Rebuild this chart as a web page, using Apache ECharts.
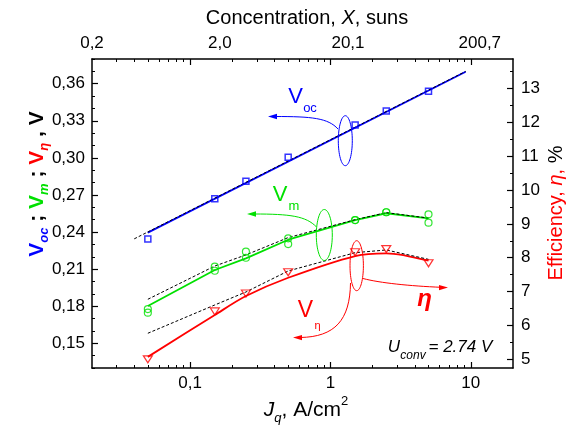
<!DOCTYPE html>
<html><head><meta charset="utf-8">
<script src="https://cdn.jsdelivr.net/npm/echarts@6/dist/echarts.min.js"></script>
<style>html,body{margin:0;padding:0;background:#fff}#c{width:574px;height:425px}</style>
</head><body><div id="c"></div>
<script>
// ---------- data ----------
const J = [0.05, 0.15, 0.25, 0.5, 1.5, 2.5, 5];              // A/cm2
const vocPts   = [0.2344, 0.2670, 0.2810, 0.3005, 0.3266, 0.3379, 0.3539];
const vocFitJ  = [0.05, 9.2];
const vocFitV  = [0.2395, 0.3697];
const vocCalcJ = [0.04, 9.2];
const vocCalcV = [0.2345, 0.3700];
const vmPtsA   = [0.1777, 0.2120, 0.2241, 0.2349, 0.2497, 0.2560, 0.2543];
const vmPtsB   = [0.1748, 0.2087, 0.2192, 0.2303, 0.2497, 0.2560, 0.2476];
const vmLine   = [0.1802, 0.2093, 0.2187, 0.2338, 0.2497, 0.2552, 0.2511];
const vmCalc   = [0.1856, 0.2125, 0.2215, 0.2355, 0.2500, 0.2557, 0.2513];
const vetaPts  = [0.1370, 0.1758, 0.1902, 0.2074, 0.2237, 0.2262, 0.2147];
const vetaLine = [0.1390, 0.1729, 0.1882, 0.2030, 0.2206, 0.2228, 0.2168];
const vetaCalc = [0.1581, 0.1810, 0.1915, 0.2085, 0.2233, 0.2255, 0.2179];

// ---------- axes / tick labels ----------
const xMin = 0.02, xMax = 20;
const bottomTicks = [0.1, 1, 10];
const bottomTickLabels = ['0,1', '1', '10'];
const xMinor = [0.03,0.04,0.05,0.06,0.07,0.08,0.09,0.2,0.3,0.4,0.5,0.6,0.7,0.8,0.9,2,3,4,5,6,7,8,9];
const topLabelPos = [0.02, 0.163, 1.334, 11.6];
const topTickLabels = ['0,2', '2,0', '20,1', '200,7'];
const yMin = 0.13, yMax = 0.38;
const leftTicks = [0.15, 0.18, 0.21, 0.24, 0.27, 0.30, 0.33, 0.36];
const leftMinor = [0.13,0.14,0.16,0.17,0.19,0.20,0.22,0.23,0.25,0.26,0.28,0.29,0.31,0.32,0.34,0.35,0.37,0.38];
const Uconv = 2.74;
const rightTicks = [5, 6, 7, 8, 9, 10, 11, 12, 13];
const rightMinor = [5.5, 6.5, 7.5, 8.5, 9.5, 10.5, 11.5, 12.5, 13.5];

const FONT = '"Liberation Sans", Arial, Helvetica, sans-serif';
const BLUE = '#0000ff', GREEN = '#00e000', RED = '#ff0000', BLACK = '#000000';
const pairs = (xs, ys) => xs.map((x, i) => [x, ys[i]]);
const nearestIdx = (arr, v) => { let b = 0, bd = Infinity; arr.forEach((a, i) => { const d = Math.abs(Math.log(a) - Math.log(v)); if (d < bd) { bd = d; b = i; } }); return b; };

const axLine = { show: true, lineStyle: { color: BLACK, width: 1.5 } };
const noLine = { show: false };
const lbl = { color: BLACK, fontSize: 17, fontFamily: FONT };

const chart = echarts.init(document.getElementById('c'));
const option = {
  animation: false,
  backgroundColor: '#fff',
  grid: { left: 92, right: 61, top: 59, bottom: 57, containLabel: false },
  xAxis: [
    { type: 'log', logBase: 10, min: xMin, max: xMax, position: 'bottom', axisLine: axLine,
      axisTick: { show: true, inside: true, length: 6, customValues: bottomTicks, lineStyle: { color: BLACK, width: 1.2 } },
      axisLabel: Object.assign({ customValues: bottomTicks, margin: 7, formatter: v => bottomTickLabels[nearestIdx(bottomTicks, v)] }, lbl),
      splitLine: { show: false }, minorTick: { show: false } },
    { type: 'log', logBase: 10, min: xMin, max: xMax, position: 'bottom', axisLine: noLine,
      axisTick: { show: true, inside: true, length: 3, customValues: xMinor, lineStyle: { color: BLACK, width: 1 } },
      axisLabel: { show: false }, splitLine: { show: false } },
    { type: 'log', logBase: 10, min: xMin, max: xMax, position: 'top', axisLine: axLine,
      axisTick: { show: true, inside: true, length: 6, customValues: bottomTicks, lineStyle: { color: BLACK, width: 1.2 } },
      axisLabel: Object.assign({ customValues: topLabelPos, margin: 7, formatter: v => topTickLabels[nearestIdx(topLabelPos, v)] }, lbl),
      splitLine: { show: false } },
    { type: 'log', logBase: 10, min: xMin, max: xMax, position: 'top', axisLine: noLine,
      axisTick: { show: true, inside: true, length: 3, customValues: xMinor, lineStyle: { color: BLACK, width: 1 } },
      axisLabel: { show: false }, splitLine: { show: false } }
  ],
  yAxis: [
    { type: 'value', min: yMin, max: yMax, position: 'left', axisLine: axLine,
      axisTick: { show: true, inside: true, length: 6, customValues: leftTicks, lineStyle: { color: BLACK, width: 1.2 } },
      axisLabel: Object.assign({ customValues: leftTicks, margin: 7, formatter: v => v.toFixed(2).replace('.', ',') }, lbl),
      splitLine: { show: false } },
    { type: 'value', min: yMin, max: yMax, position: 'left', axisLine: noLine,
      axisTick: { show: true, inside: true, length: 3, customValues: leftMinor, lineStyle: { color: BLACK, width: 1 } },
      axisLabel: { show: false }, splitLine: { show: false } },
    { type: 'value', min: yMin / Uconv * 100, max: yMax / Uconv * 100, position: 'right', axisLine: axLine,
      axisTick: { show: true, inside: true, length: 6, customValues: rightTicks, lineStyle: { color: BLACK, width: 1.2 } },
      axisLabel: Object.assign({ customValues: rightTicks, margin: 8, formatter: v => String(Math.round(v)) }, lbl),
      splitLine: { show: false } },
    { type: 'value', min: yMin / Uconv * 100, max: yMax / Uconv * 100, position: 'right', axisLine: noLine,
      axisTick: { show: true, inside: true, length: 3, customValues: rightMinor, lineStyle: { color: BLACK, width: 1 } },
      axisLabel: { show: false }, splitLine: { show: false } }
  ],
  series: [
    { type: 'line', data: pairs(vocFitJ, vocFitV), showSymbol: false, lineStyle: { color: BLUE, width: 1.8 }, z: 2 },
    { type: 'line', data: pairs(J, vmLine), showSymbol: false, lineStyle: { color: GREEN, width: 1.8 }, z: 2 },
    { type: 'line', data: pairs(J, vetaLine), showSymbol: false, smooth: 0.3, lineStyle: { color: RED, width: 1.8 }, z: 2 },
    { type: 'line', data: pairs(vocCalcJ, vocCalcV), showSymbol: false, lineStyle: { color: BLACK, width: 1, type: [3, 2] }, z: 3 },
    { type: 'line', data: pairs(J, vmCalc), showSymbol: false, lineStyle: { color: BLACK, width: 1, type: [3, 2] }, z: 3 },
    { type: 'line', data: pairs(J, vetaCalc), showSymbol: false, lineStyle: { color: BLACK, width: 1, type: [3, 2] }, z: 3 },
    { type: 'scatter', data: pairs(J, vocPts), symbol: 'rect', symbolSize: 6, itemStyle: { color: 'rgba(0,0,0,0)', borderColor: BLUE, borderWidth: 1.5 }, z: 4 },
    { type: 'scatter', data: pairs(J, vmPtsA), symbol: 'circle', symbolSize: 7, itemStyle: { color: 'rgba(0,0,0,0)', borderColor: GREEN, borderWidth: 1.2 }, z: 4 },
    { type: 'scatter', data: pairs(J, vmPtsB), symbol: 'circle', symbolSize: 7, itemStyle: { color: 'rgba(0,0,0,0)', borderColor: GREEN, borderWidth: 1.2 }, z: 4 },
    { type: 'scatter', data: pairs(J, vetaPts), symbol: 'triangle', symbolRotate: 180, symbolSize: [9, 7], itemStyle: { color: 'rgba(0,0,0,0)', borderColor: RED, borderWidth: 1.2 }, z: 4 }
  ],
  graphic: [
    // ellipses and arrows
    { type: 'ellipse', silent: true, z: 10, shape: { cx: 345.3, cy: 140.7, rx: 7, ry: 25 }, style: { fill: 'none', stroke: BLUE, lineWidth: 1 } },
    { type: 'bezierCurve', silent: true, z: 10, shape: { x1: 338, y1: 129, cpx1: 328, cpy1: 118, cpx2: 312, cpy2: 116.5, x2: 275, y2: 116.5 }, style: { fill: 'none', stroke: BLUE, lineWidth: 1 } },
    { type: 'polygon', silent: true, z: 10, shape: { points: [[268, 116.5], [277, 113.8], [277, 119.2]] }, style: { fill: BLUE } },

    { type: 'ellipse', silent: true, z: 10, shape: { cx: 324.3, cy: 235, rx: 8, ry: 25.5 }, style: { fill: 'none', stroke: GREEN, lineWidth: 1 } },
    { type: 'bezierCurve', silent: true, z: 10, shape: { x1: 316.5, y1: 227, cpx1: 306, cpy1: 216, cpx2: 290, cpy2: 214, x2: 254, y2: 214 }, style: { fill: 'none', stroke: GREEN, lineWidth: 1 } },
    { type: 'polygon', silent: true, z: 10, shape: { points: [[247, 214], [256, 211.3], [256, 216.7]] }, style: { fill: GREEN } },

    { type: 'ellipse', silent: true, z: 10, shape: { cx: 356.7, cy: 265.7, rx: 6.7, ry: 25 }, style: { fill: 'none', stroke: RED, lineWidth: 1 } },
    { type: 'bezierCurve', silent: true, z: 10, shape: { x1: 363, y1: 278.5, cpx1: 380, cpy1: 283, cpx2: 410, cpy2: 286, x2: 441, y2: 287.3 }, style: { fill: 'none', stroke: RED, lineWidth: 1 } },
    { type: 'polygon', silent: true, z: 10, shape: { points: [[448, 287.6], [439, 284.9], [439, 290.3]] }, style: { fill: RED } },
    { type: 'bezierCurve', silent: true, z: 10, shape: { x1: 350.5, y1: 283, cpx1: 350, cpy1: 320, cpx2: 335, cpy2: 337, x2: 300, y2: 337.5 }, style: { fill: 'none', stroke: RED, lineWidth: 1 } },
    { type: 'polygon', silent: true, z: 10, shape: { points: [[293, 337.6], [302, 334.9], [302, 340.3]] }, style: { fill: RED } },

    // annotation texts
    { type: 'text', silent: true, z: 11, x: 295.5, y: 97, style: { text: 'V', font: '22px ' + FONT, fill: BLUE, textAlign: 'center', textVerticalAlign: 'middle' } },
    { type: 'text', silent: true, z: 11, x: 310, y: 108.5, style: { text: 'oc', font: '13px ' + FONT, fill: BLUE, textAlign: 'center', textVerticalAlign: 'middle' } },
    { type: 'text', silent: true, z: 11, x: 280, y: 195, style: { text: 'V', font: '22px ' + FONT, fill: GREEN, textAlign: 'center', textVerticalAlign: 'middle' } },
    { type: 'text', silent: true, z: 11, x: 294, y: 206.5, style: { text: 'm', font: '13px ' + FONT, fill: GREEN, textAlign: 'center', textVerticalAlign: 'middle' } },
    { type: 'text', silent: true, z: 11, x: 305.5, y: 311, style: { text: 'V', font: '23px ' + FONT, fill: RED, textAlign: 'center', textVerticalAlign: 'middle' } },
    { type: 'text', silent: true, z: 11, x: 317.5, y: 326, style: { text: 'η', font: '11px ' + FONT, fill: RED, textAlign: 'center', textVerticalAlign: 'middle' } },
    { type: 'text', silent: true, z: 11, x: 424.5, y: 299, style: { text: 'η', font: 'italic bold 24px ' + FONT, fill: RED, textAlign: 'center', textVerticalAlign: 'middle' } },
    { type: 'text', silent: true, z: 11, x: 394, y: 347.5, style: { text: 'U', font: 'italic 17px ' + FONT, fill: BLACK, textAlign: 'center', textVerticalAlign: 'middle' } },
    { type: 'text', silent: true, z: 11, x: 413, y: 356, style: { text: 'conv', font: 'italic 12px ' + FONT, fill: BLACK, textAlign: 'center', textVerticalAlign: 'middle' } },
    { type: 'text', silent: true, z: 11, x: 428.5, y: 347.5, style: { text: '= 2.74 V', font: 'italic 17px ' + FONT, fill: BLACK, textAlign: 'left', textVerticalAlign: 'middle' } },

    // axis titles
    { type: 'text', silent: true, z: 11, x: 307, y: 18, style: {
        text: '{n|Concentration, }{i|X}{n|, suns}', textAlign: 'center', textVerticalAlign: 'middle',
        rich: { n: { fontSize: 20, fontFamily: FONT, fill: BLACK }, i: { fontSize: 20, fontFamily: FONT, fontStyle: 'italic', fill: BLACK } } } },
    { type: 'text', silent: true, z: 11, x: 306, y: 410, style: {
        text: '{i|J}{s|q}{n|, A/cm}{p|2}', textAlign: 'center', textVerticalAlign: 'middle',
        rich: { i: { fontSize: 21, lineHeight: 30, fontFamily: FONT, fontStyle: 'italic', fill: BLACK },
                s: { fontSize: 13, lineHeight: 13, fontFamily: FONT, fontStyle: 'italic', fill: BLACK, verticalAlign: 'bottom' },
                n: { fontSize: 21, lineHeight: 30, fontFamily: FONT, fill: BLACK },
                p: { fontSize: 13, lineHeight: 13, fontFamily: FONT, fill: BLACK, verticalAlign: 'top' } } } },
    { type: 'text', silent: true, z: 11, x: 37, y: 184, rotation: Math.PI / 2, style: {
        text: '{b|V}{bs|oc}{k| ; }{g|V}{gs|m}{k| ; }{r|V}{rs|η}{k| , V}', textAlign: 'center', textVerticalAlign: 'middle',
        rich: {
          b: { fontSize: 21, lineHeight: 28, fontWeight: 'bold', fontFamily: FONT, fill: BLUE },
          bs: { fontSize: 13, lineHeight: 13, fontWeight: 'bold', fontStyle: 'italic', fontFamily: FONT, fill: BLUE, verticalAlign: 'bottom' },
          g: { fontSize: 21, lineHeight: 28, fontWeight: 'bold', fontFamily: FONT, fill: GREEN },
          gs: { fontSize: 13, lineHeight: 13, fontWeight: 'bold', fontStyle: 'italic', fontFamily: FONT, fill: GREEN, verticalAlign: 'bottom' },
          r: { fontSize: 21, lineHeight: 28, fontWeight: 'bold', fontFamily: FONT, fill: RED },
          rs: { fontSize: 13, lineHeight: 13, fontWeight: 'bold', fontStyle: 'italic', fontFamily: FONT, fill: RED, verticalAlign: 'bottom' },
          k: { fontSize: 21, lineHeight: 28, fontWeight: 'bold', fontFamily: FONT, fill: BLACK } } } },
    { type: 'text', silent: true, z: 11, x: 556, y: 213, rotation: Math.PI / 2, style: {
        text: '{r|Efficiency, }{ri|η}{r|,}{k| %}', textAlign: 'center', textVerticalAlign: 'middle',
        rich: { r: { fontSize: 20, fontFamily: FONT, fill: RED }, ri: { fontSize: 20, fontFamily: FONT, fontStyle: 'italic', fill: RED },
                k: { fontSize: 20, fontFamily: FONT, fill: BLACK } } } }
  ]
};
chart.setOption(option);
</script>
</body></html>
